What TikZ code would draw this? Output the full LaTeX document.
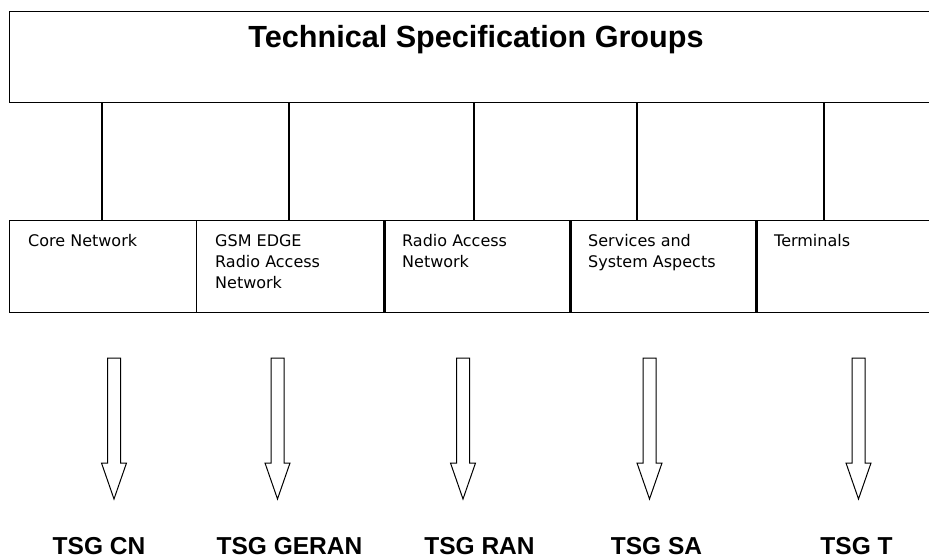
\documentclass[tikz,border=0pt]{standalone}
\usepackage{fontspec}
\setmainfont{Liberation Sans}
\newfontfamily\boxfont{DejaVu Sans}
\begin{document}
\begin{tikzpicture}[x=1pt,y=-1pt,
  frame/.style={draw, line width=1.3pt, inner sep=0pt, anchor=north west},
  boxtext/.style={anchor=north west, inner sep=0pt, align=left,
    font=\boxfont\fontsize{16pt}{21pt}\selectfont},
  link/.style={line width=1.3pt},
  sepline/.style={line width=2.4pt},
  arrowline/.style={draw, line width=1pt, fill=white, line join=miter},
  tsg/.style={anchor=base, inner sep=0pt, font=\bfseries\fontsize{24.5pt}{29pt}\selectfont},
  hollowarrow/.pic={\path[arrowline] (-6.5,0) -- (6.5,0) -- (6.5,105) -- (12.5,105)
    -- (0,141) -- (-12.5,105) -- (-6.5,105) -- cycle;}
]
\fill[white] (0,0) rectangle (929,559);
\useasboundingbox (0,0) rectangle (929,559);
\clip (0,0) rectangle (929,559);

% top group box (runs past the right edge)
\node[frame, minimum width=940pt, minimum height=91pt] (tsgbox) at (9,11) {};
\node[anchor=base, inner sep=0pt, font=\bfseries\fontsize{30.6pt}{36pt}\selectfont]
  (title) at (476,48) {Technical Specification Groups};

% row of group boxes
\node[frame, minimum width=187pt, minimum height=92pt] (box1) at (9,220) {};
\node[frame, minimum width=187pt, minimum height=92pt] (box2) at (196,220) {};
\node[frame, minimum width=186pt, minimum height=92pt] (box3) at (383,220) {};
\node[frame, minimum width=186pt, minimum height=92pt] (box4) at (569,220) {};
\node[frame, minimum width=190pt, minimum height=92pt] (box5) at (755,220) {};
\foreach \i in {2,3,4}
  \draw[sepline] (box\i.north east) -- (box\i.south east);

\node[boxtext] (t1) at (28,232)  {\strut Core Network};
\node[boxtext] (t2) at (215,232) {\strut GSM EDGE\\Radio Access\\Network};
\node[boxtext] (t3) at (402,232) {\strut Radio Access\\Network};
\node[boxtext] (t4) at (588,232) {\strut Services and\\System Aspects};
\node[boxtext] (t5) at (774,232) {\strut Terminals};

% connectors from the top box
\foreach \i/\x in {1/102, 2/289, 3/474, 4/637, 5/824} {
  \coordinate (c\i) at (\x,0);
  \draw[link] (c\i |- tsgbox.south) -- (c\i |- box\i.north);
}

% hollow arrows
\foreach \i/\x in {1/114, 2/277.5, 3/463, 4/649.5, 5/858.5}
  \pic (arr\i) at (\x,358) {hollowarrow};

% group labels
\node[tsg] (l1) at (99,554)    {TSG CN};
\node[tsg] (l2) at (289.5,554) {TSG GERAN};
\node[tsg] (l3) at (479.5,554) {TSG RAN};
\node[tsg] (l4) at (656.5,554) {TSG SA};
\node[tsg] (l5) at (856.5,554) {TSG T};
\end{tikzpicture}
\end{document}
